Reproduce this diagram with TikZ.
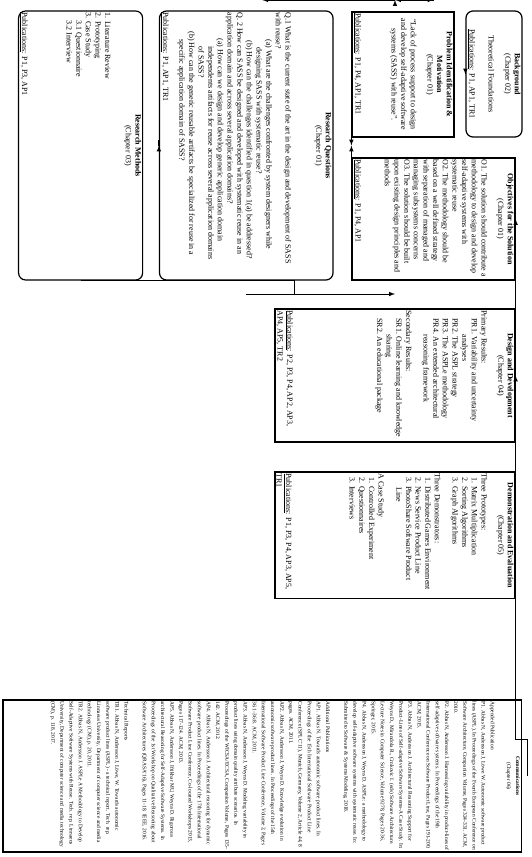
\documentclass[tikz,border=0pt]{standalone}
\usepackage{fontspec}
\setmainfont{Liberation Serif}
\newcommand{\pub}{\underline{Publications}}
\newcommand{\cell}[3]{\parbox[c][#2][t]{#1}{#3}}
\newcommand{\ttl}[2]{{\centering\textbf{#1}\\(#2)\par}\vspace{7bp}}
\begin{document}
\begin{tikzpicture}[>=latex, x=1bp, y=1bp, rotate=-90, transform shape,
  box/.style={draw, line width=1.2bp, inner sep=1.5bp, font=\fontsize{8}{9.7}\selectfont},
  rbox/.style={box, rounded corners=7bp},
  link/.style={line width=1bp}]
\useasboundingbox (0,0) rectangle (857,532);
% boxes
\node[rbox] (bg) at (74,494) {\cell{123bp}{53bp}{\ttl{Background}{Chapter 02}
  {\centering Theoretical Foundations\par}\vfill
  {\centering\pub: P1, AP1, TR1\par}}};
\node[box] (pim) at (74.5,403) {\cell{122bp}{99bp}{\ttl{Problem Identification \&\\Motivation}{Chapter 01}
  {\centering “Lack of process support to design\\and develop self-adaptive software\\systems (SASS) with reuse”.\par}\vfill
  \pub: P1, P4, AP1, TR1}};
\node[box] (obj) at (219,433.5) {\cell{119bp}{160bp}{\ttl{Objectives for the Solution}{Chapter 01}
  O1. The solution should contribute a\\methodology to design and develop\\self-adaptive systems with\\systematic reuse\\
  O2. The methodology should be\\based on a well defined strategy\\with separation of managed and\\managing subsystems concerns\\
  O3. The solution should be built\\upon existing design principles and\\methods\par\vfill
  \pub: P1, P4, AP1}};
\node[rbox] (rq) at (145.5,246.25) {\cell{266bp}{170.5bp}{\ttl{Research Questions}{Chapter 01}\vspace{14bp}
  Q.1 What is the current state of the art in the design and development of SASS\\
  with reuse?\\
  \hspace*{27bp}(a) What are the challenges confronted by system designers while\\
  \hspace*{35bp}designing SASS with systematic reuse?\\
  \hspace*{28bp}(b) How can the challenges identified in question 1(a) be addressed?\\
  Q. 2 How can SASS be designed and developed with systematic reuse in an\\
  application domain and across several application domains?\\
  \hspace*{26bp}(a) How can we design and develop generic application domain\\
  \hspace*{34bp}independents artifacts for reuse across several application domains\\
  \hspace*{34bp}of SASS?\\
  \hspace*{19bp}(b) How can the generic reusable artifacts be specialized for reuse in a\\
  \hspace*{27bp}specific application domain of SASS?\par\vfill
  \pub: P1, AP1, TR1}};
\node[rbox] (rm) at (145.5,80.6) {\cell{266bp}{121bp}{\ttl{Research Methods}{Chapter 03}\vspace{4bp}
  1. Literature Review\\2. Prototyping\\3. Case Study\\
  \hspace*{8bp}3.1 Questionnaire\\\hspace*{8bp}3.2 Interview\par\vfill
  \pub: P1, P3, AP1}};
\node[box] (dd) at (375.5,395) {\cell{130bp}{237bp}{\ttl{Design and Development}{Chapter 04}
  Primary Results:\\
  \hspace*{8bp}PR1. Variability and uncertainty\\
  \hspace*{24bp}analyses\\
  \hspace*{8bp}PR2. The ASPL strategy\\
  \hspace*{8bp}PR3. The ASPLe methodology\\
  \hspace*{8bp}PR4. An extended architectural\\
  \hspace*{24bp}reasoning framework\\[8bp]
  Secondary Results:\\
  \hspace*{8bp}SR1. Online learning and knowledge\\
  \hspace*{24bp}sharing\\
  \hspace*{8bp}SR2. An educational package\par\vfill
  \pub: P2, P3, P4, AP2, AP3,\\AP4, AP5, TR2}};
\node[box] (de) at (535.25,395) {\cell{123.5bp}{237bp}{\ttl{Demonstration and Evaluation}{Chapter 05}
  Three Prototypes:\\
  \hspace*{4bp}1. Matrix Multiplication\\
  \hspace*{4bp}2. Sorting Algorithms\\
  \hspace*{4bp}3. Graph Algorithms\\[8bp]
  Three Demonstrators:\\
  \hspace*{4bp}1. Distributed Games Environment\\
  \hspace*{4bp}2. News Service Product Line\\
  \hspace*{4bp}3. PhotoShare Software Product\\
  \hspace*{14bp}Line\\[8bp]
  A Case Study\\
  \hspace*{4bp}1. Controlled Experiment\\
  \hspace*{4bp}2. Questionnaires\\
  \hspace*{4bp}3. Interviews\par\vfill
  \pub: P1, P3, P4, AP3, AP5,\\TR1}};
\node[box, font=\fontsize{5.45}{9.2}\selectfont] (com) at (776,262.25) {\cell{149bp}{515.5bp}{\ttl{Communications}{Chapter 06}
  Appended Publication\\
  P1. Abbas N, Andersson J, Löwe W. Autonomic software product\\
  lines (ASPL). In Proceedings of the Fourth European Conference on\\
  Software Architecture, Companion Volume, Pages 324-331. ACM,\\
  2010.\\
  P2. Abbas N, Andersson J. Harnessing variability in product-lines of\\
  self-adaptive software systems. In Proceedings of the 19th\\
  International Conference on Software Product Line, Pages 191-200.\\
  ACM, 2015.\\
  P3. Abbas N, Andersson J. Architectural Reasoning Support for\\
  Product-Lines of Self-adaptive Software Systems-A Case Study. In:\\
  Weyns D., Mirandola R., Crnkovic I. (eds) Software Architecture.\\
  Lecture Notes in Computer Science, Volume 9278, Pages 20-36,\\
  Springer, 2015.\\
  P4. Abbas N, Andersson J, Weyns D. ASPLe: a methodology to\\
  develop self-adaptive software systems with systematic reuse. In:\\
  Submitted to Software \& Systems Modeling, 2018.\\[9bp]
  Additional Publications\\
  AP1. Abbas N. Towards autonomic software product lines. In\\
  Proceedings of the 15th International Software Product Line\\
  Conference (SPLC'11), Munich, Germany, Volume 2, Article 44, 8\\
  pages. ACM, 2011.\\
  AP2. Abbas N, Andersson J, Weyns D. Knowledge evolution in\\
  autonomic software product lines. In Proceedings of the 15th\\
  International Software Product Line Conference, Volume 2, Pages\\
  36:1--36:8. ACM, 2011.\\
  AP3. Abbas N, Andersson J, Weyns D. Modeling variability in\\
  product lines using domain quality attribute scenarios. In\\
  Proceedings of the WICSA/ECSA, Companion Volume, Pages 135-\\
  142. ACM, 2012.\\
  AP4. Abbas N, Andersson J. Architectural reasoning for dynamic\\
  software product lines. In Proceedings of the 17th International\\
  Software Product Line Conference, Co-located Workshops 2013,\\
  Pages 117-124. ACM, 2013.\\
  AP5. Abbas N, Andersson J, Iftikhar MU, Weyns D. Rigorous\\
  architectural Reasoning for Self-Adaptive Software Systems. In\\
  Proceedings of the 1st Workshop on Qualitative Reasoning about\\
  Software Architectures (QRASA'16), Pages 11-18. IEEE, 2016.\\[9bp]
  Technical Reports\\
  TR1. Abbas N, Andersson J, Löwe, W. Towards autonomic\\
  software product lines (ASPL) - a technical report. Tech. rep.\\
  Linnaeus University, Department of computer science and media\\
  technology (CM), p. 20, 2011.\\
  TR2. Abbas N, Andersson J. ASPLe A Methodology to Develop\\
  Self-Adaptive Software Systems with Reuse. Tech. rep. Linnaeus\\
  University, Department of computer science and media technology\\
  (CM), p. 118, 2017.}};
% connectors
\coordinate (spine) at (0,428);
\coordinate (merge) at (294,294.5);
\coordinate (top) at (739,527.6);
\draw[link,->] (bg.south) -- (bg.south -| pim.north);
\draw[link,->] (pim.south) -- (pim.south -| rq.north);
\draw[link,->] (rq.south) -- (rq.south -| rm.north);
\draw[link,->] (obj.south) -- (obj.south -| rq.north);
\draw[link,->] (pim.east -| spine) -- (obj.west -| spine);
\draw[link,->] (obj.east -| spine) -- (dd.west -| spine);
\draw[link,->] (dd.east -| spine) -- (de.west -| spine);
\draw[link,->] (de.east -| spine) -- (com.west -| spine);
\draw[link] (rm.east) |- (merge);
\draw[link,->] (rq.east -| merge) -- (dd.west -| merge);
\draw[link,->] (top -| com.north) -- (top) -- (obj.north -| top) -- (obj.north);
\draw[link,->] (dd.north -| top) -- (dd.north);
\draw[link] (de.north -| top) -- (de.north);
\end{tikzpicture}
\end{document}
